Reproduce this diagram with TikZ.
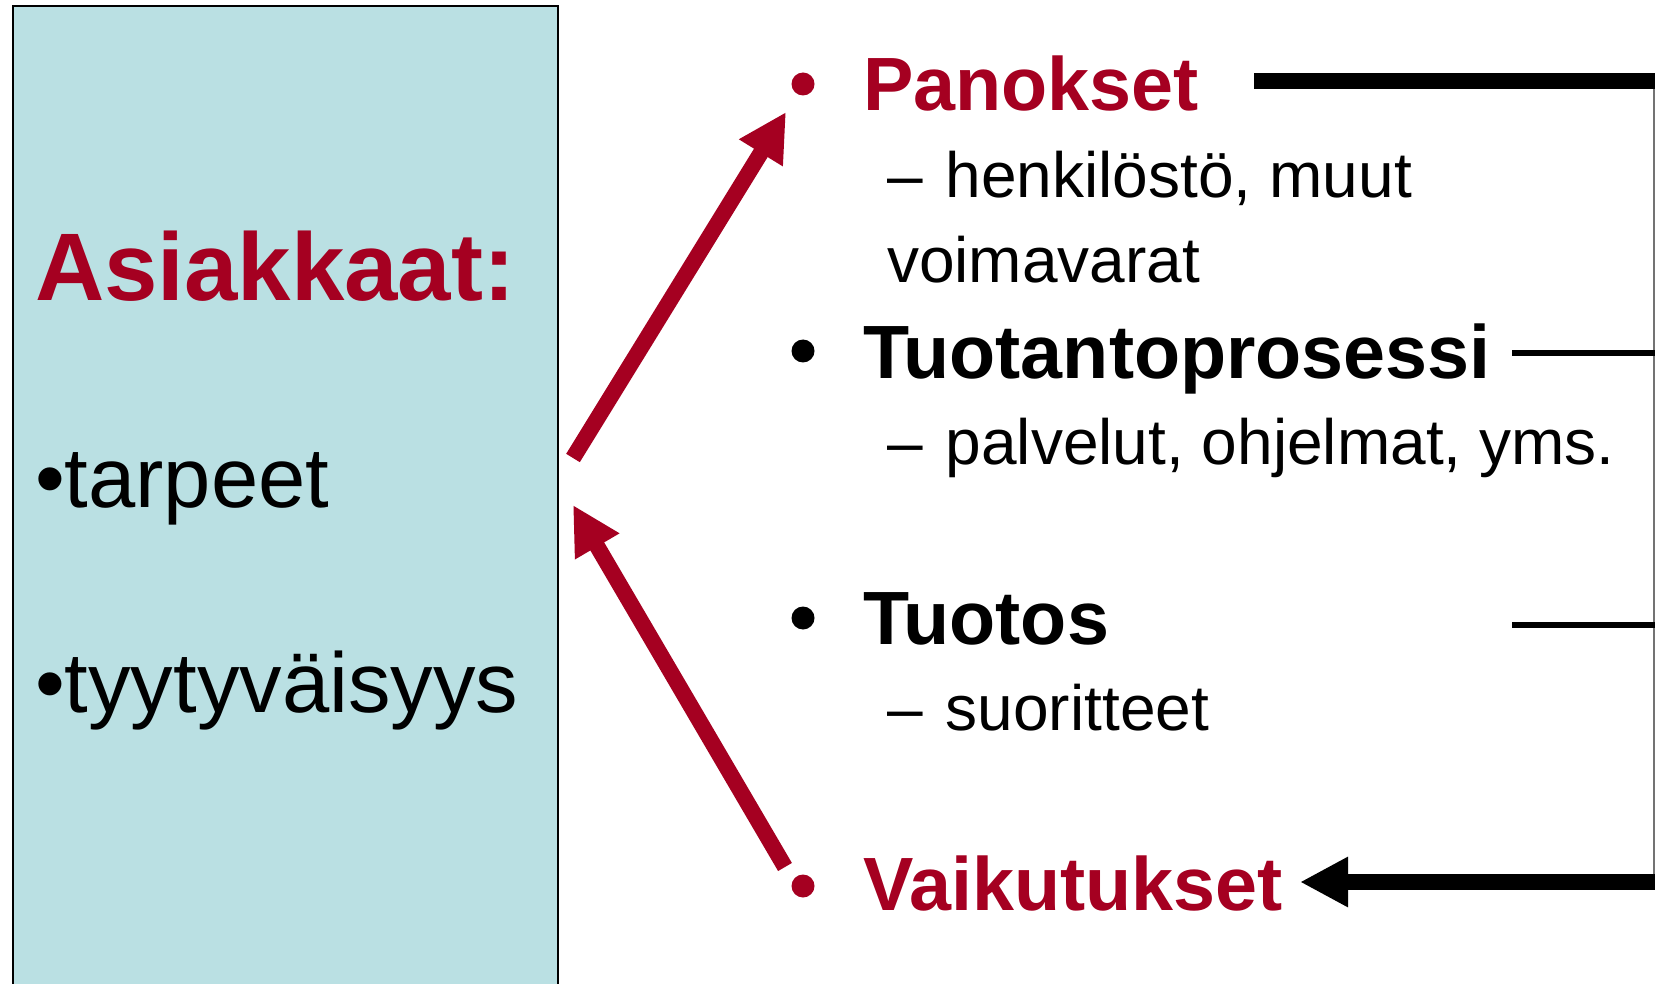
\documentclass[tikz,border=0pt]{standalone}
\usepackage{fontspec}
\setmainfont{Liberation Sans}
\usetikzlibrary{arrows.meta}
\definecolor{boxfill}{RGB}{186,224,227}
\definecolor{darkred}{RGB}{165,0,33}
\newcommand{\subdash}{–\hspace{5.5pt} }
\tikzset{
  txt/.style={anchor=base west, inner sep=0pt, outer sep=0pt},
  big/.style={txt, font=\fontsize{75.5}{80}\selectfont\bfseries},
  sub/.style={txt, font=\fontsize{64}{70}\selectfont},
  side/.style={txt, font=\fontsize{85}{90}\selectfont},
  dot/.style={circle, fill=#1, minimum size=23pt, inner sep=0pt},
  redarrow/.style={draw=darkred, line width=16pt, -{Triangle[length=48pt,width=48pt]}, fill=darkred},
  blkarrow/.style={draw=black, line width=16pt, -{Triangle[length=48pt,width=47pt]}},
}
\begin{document}
\begin{tikzpicture}[x=1pt,y=-1pt]
\useasboundingbox (0,0) rectangle (1655,984);
\fill[white] (0,0) rectangle (1655,984);
% left box
\draw[fill=boxfill, line width=1.6pt] (13,6) -- (558,6) -- (558,990) -- (13,990) -- cycle;
\node[txt, font=\fontsize{96}{100}\selectfont\bfseries, text=darkred] (asia) at (35,301) {Asiakkaat:};
\node[side] (tarp) at (35,507) {•tarpeet};
\node[side] (tyyt) at (35,712) {•tyytyväisyys};
% right list
\node[dot=darkred] (b1) at (803,84) {};
\node[big, text=darkred] (pan) at (863,111) {Panokset};
\node[sub] (pan1) at (887,198) {\subdash henkilöstö, muut};
\node[sub] (pan2) at (887,283) {voimavarat};
\node[dot=black] (b2) at (803,351) {};
\node[big] (tuo) at (863,378) {Tuotantoprosessi};
\node[sub] (tuo1) at (887,464) {\subdash palvelut, ohjelmat, yms.};
\node[dot=black] (b3) at (803,618) {};
\node[big] (tos) at (863,644) {Tuotos};
\node[sub] (tos1) at (887,730) {\subdash suoritteet};
\node[dot=darkred] (b4) at (803,886) {};
\node[big, text=darkred] (vai) at (863,910) {Vaikutukset};
% red arrows
\coordinate (a1s) at (573,458);
\coordinate (a1e) at (786,112);
\coordinate (a2s) at (785,867);
\coordinate (a2e) at (573,505);
\draw[redarrow] (a1s) -- (a1e);
\draw[redarrow] (a2s) -- (a2e);
% right connector lines
\coordinate (r1) at (1254,81);
\coordinate (r1e) at (1655,81);
\coordinate (r2) at (1512,353);
\coordinate (r2e) at (1655,353);
\coordinate (r3) at (1512,625);
\coordinate (r3e) at (1655,625);
\coordinate (r4s) at (1655,882);
\coordinate (r4e) at (1300,882);
\coordinate (vt) at (1654,81);
\coordinate (vb) at (1654,882);
\draw[line width=1.5pt, black!55] (vt) -- (vb);
\draw[line width=16pt] (r1) -- (r1e);
\draw[line width=6pt] (r2) -- (r2e);
\draw[line width=6pt] (r3) -- (r3e);
\draw[blkarrow] (r4s) -- (r4e);
\end{tikzpicture}
\end{document}
